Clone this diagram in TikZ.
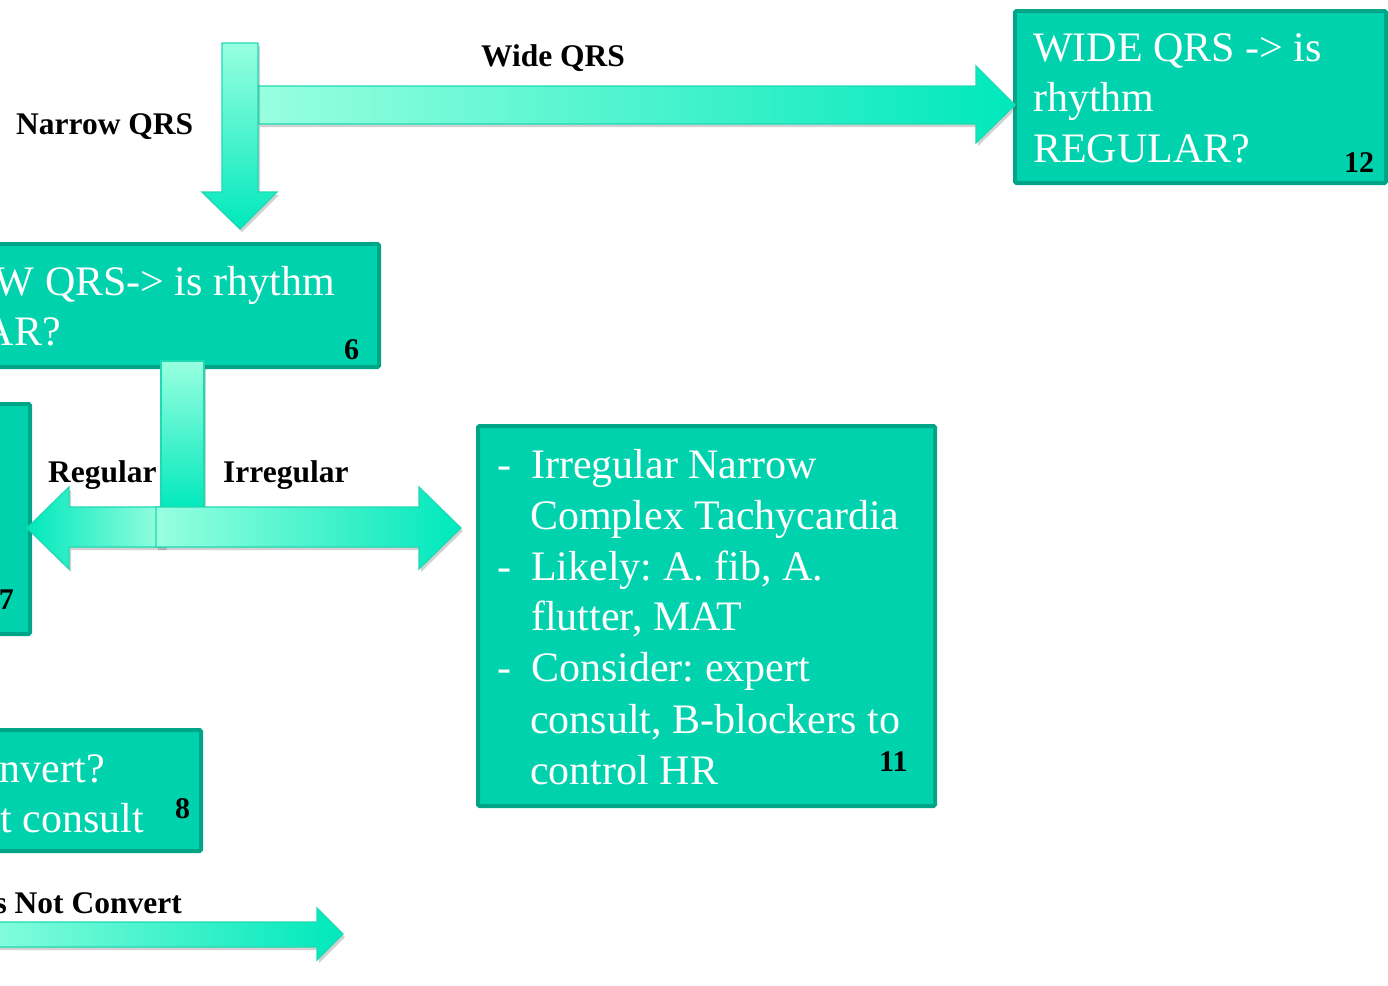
\documentclass[tikz,border=0pt]{standalone}
\usepackage{fontspec}
\setmainfont{Liberation Serif}
\usetikzlibrary{shadows}
\frenchspacing
\definecolor{boxfill}{RGB}{0,210,174}
\definecolor{boxline}{RGB}{0,165,135}
\definecolor{arrlight}{RGB}{152,255,224}
\definecolor{arrdark}{RGB}{0,232,188}
\definecolor{arredge}{RGB}{30,218,178}
\tikzset{
  box/.style={draw=boxline, fill=boxfill, line width=4pt, rounded corners=1.5pt,
    inner sep=0pt, anchor=north west},
  boxtext/.style={font=\fontsize{42}{51}\selectfont, text=white, inner sep=0pt, anchor=base west},
  lbl/.style={font=\bfseries\fontsize{31.5}{36}\selectfont, inner sep=0pt, anchor=base west},
  num/.style={font=\bfseries\fontsize{30}{34}\selectfont, inner sep=0pt, anchor=base west},
  blockarrow/.style={draw=arredge, line width=1.2pt, line join=miter,
    drop shadow={shadow xshift=2pt, shadow yshift=-3pt, opacity=0.3, fill=black!60}},
}
\begin{document}
\begin{tikzpicture}[x=1pt,y=-1pt]
\useasboundingbox (0,0) rectangle (1388,985);
\clip (0,0) rectangle (1388,985);

% ---------- boxes ----------
\node[box, minimum width=371pt, minimum height=172pt] (box12) at (1013,9) {};
\node[box, minimum width=397pt, minimum height=123pt] (box6) at (-20,242) {};
\node[box, minimum width=48pt, minimum height=230pt] (box7) at (-20,402) {};
\node[box, minimum width=219pt, minimum height=121pt] (box8) at (-20,728) {};
\node[box, minimum width=457pt, minimum height=380pt] (box11) at (476,424) {};

% ---------- arrows ----------
% Wide QRS (horizontal)
\path[blockarrow, left color=arrlight, right color=arrdark]
  (258,86) -- (976,86) -- (976,66) -- (1015,105) -- (976,143) -- (976,124) -- (258,124) -- cycle;
% Narrow QRS (vertical)
\path[blockarrow, top color=arrlight, bottom color=arrdark]
  (222,43) -- (258,43) -- (258,192) -- (277,192) -- (240,229) -- (202,192) -- (222,192) -- cycle;
% from box 6 down
\path[blockarrow, top color=arrlight, bottom color=arrdark]
  (161,361) rectangle (204,510);
% Regular (left)
\path[blockarrow, left color=arrdark, right color=arrlight]
  (165,507) -- (69,507) -- (69,487) -- (27,528) -- (69,569) -- (69,547) -- (165,547) -- cycle;
% Irregular (right)
\path[blockarrow, left color=arrlight, right color=arrdark]
  (156,507) -- (419,507) -- (419,487) -- (461,528) -- (419,569) -- (419,547) -- (156,547) -- cycle;
% Does Not Convert (bottom)
\path[blockarrow, left color=arrlight, right color=arrdark]
  (-60,922) -- (317,922) -- (317,908) -- (343,934) -- (317,960) -- (317,947) -- (-60,947) -- cycle;

% ---------- box texts ----------
\node[boxtext] (t12a) at (1033,61) {WIDE QRS -> is};
\node[boxtext] (t12b) at (1033,111) {rhythm};
\node[boxtext] (t12c) at (1033,162) {REGULAR?};
\node[num] (n12) at (1344,172) {12};

\node[boxtext, anchor=base east] (t6a) at (335,295) {W QRS-> is rhythm};
\node[boxtext, anchor=base east] (t6b) at (61,345) {AR?};
\node[num] (n6) at (344,359) {6};

\node[num, anchor=base east] (n7) at (14,609) {7};

\node[boxtext, anchor=base east] (t8a) at (105,782) {nvert?};
\node[boxtext, anchor=base east] (t8b) at (144,832) {t consult};
\node[num] (n8) at (175,818) {8};

\foreach \y in {478,580,681}
  \node[boxtext] at (497,\y) {-};
\node[boxtext] (t11a) at (531,478) {Irregular Narrow};
\node[boxtext] (t11b) at (530,529) {Complex Tachycardia};
\node[boxtext] (t11c) at (531,580) {Likely: A. fib, A.};
\node[boxtext] (t11d) at (531,630) {flutter, MAT};
\node[boxtext] (t11e) at (531,681) {Consider: expert};
\node[boxtext] (t11f) at (530,733) {consult, B-blockers to};
\node[boxtext] (t11g) at (530,784) {control HR};
\node[num] (n11) at (879,771) {11};

% ---------- labels ----------
\node[lbl] (lwide) at (481,66) {Wide QRS};
\node[lbl] (lnarrow) at (16,134) {Narrow QRS};
\node[lbl] (lreg) at (48,482) {Regular};
\node[lbl] (lirr) at (223,482) {Irregular};
\node[lbl, anchor=base east] (lnot) at (182,913) {s Not Convert};
\end{tikzpicture}
\end{document}
